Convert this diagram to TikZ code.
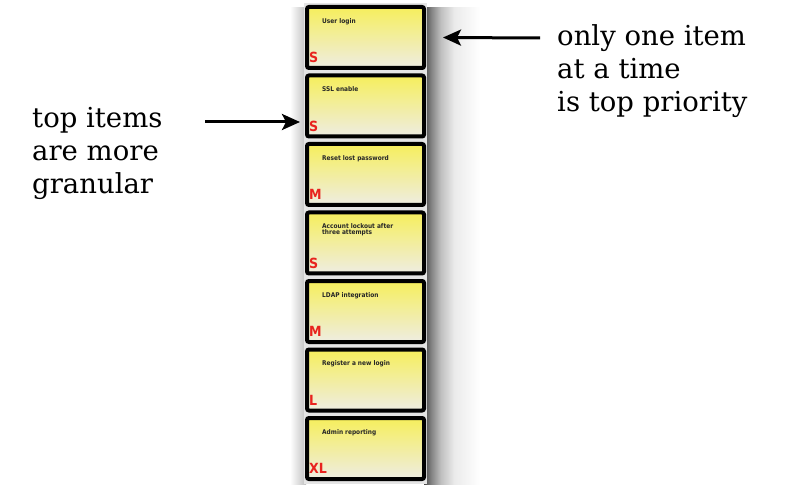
\documentclass[tikz,border=0pt]{standalone}
\usepackage{fontspec}
\setmainfont{DejaVu Serif}
\newfontfamily\cardfont{DejaVu Sans Condensed}
\usetikzlibrary{arrows.meta}
\definecolor{noteyellow}{HTML}{F6EE5C}
\definecolor{notepale}{HTML}{EEEDE2}
\definecolor{sizered}{HTML}{E8231E}
\pgfdeclarehorizontalshading{stackshadow}{100bp}{color(0bp)=(black!72); color(25bp)=(black!72);
  color(31bp)=(black!50); color(40bp)=(black!25); color(52bp)=(black!8);
  color(75bp)=(white); color(100bp)=(white)}
\tikzset{
  card/.style={rectangle, rounded corners=2pt, draw=black, line width=4pt,
    top color=noteyellow, bottom color=notepale,
    minimum width=117pt, minimum height=61pt, inner sep=0pt},
  title/.style={anchor=north west, font=\cardfont\bfseries\fontsize{6.5}{7}\selectfont,
    text=black!85, align=left, inner sep=0pt},
  size/.style={anchor=south west, font=\cardfont\bfseries\fontsize{14}{14}\selectfont,
    text=sizered, inner sep=0pt},
  note/.style={font=\fontsize{27.5}{33}\selectfont, align=left, anchor=west, inner sep=0pt},
  pointer/.style={-{Stealth[length=18pt,width=16pt,inset=4pt]}, line width=3pt}
}
\begin{document}
\begin{tikzpicture}[x=1pt,y=-1pt]
\useasboundingbox[fill=white] (0,0) rectangle (800,486);
% shadow behind the stack
\shade[shading=stackshadow] (424,8) rectangle (480,484);
\shade[left color=white, right color=black!25] (290,8) rectangle (306,484);
\fill[black!10] (304,3) rectangle (427,484);

\node[card] (c1) at (365.5,37.5) {};
\node[card] (c2) at (365.5,106) {};
\node[card] (c3) at (365.5,174.5) {};
\node[card] (c4) at (365.5,243) {};
\node[card] (c5) at (365.5,311.5) {};
\node[card] (c6) at (365.5,380) {};
\node[card] (c7) at (365.5,448.5) {};

\node[title] (t1) at ([xshift=17pt,yshift=-13pt]c1.north west) {User login};
\node[title] (t2) at ([xshift=17pt,yshift=-13pt]c2.north west) {SSL enable};
\node[title] (t3) at ([xshift=17pt,yshift=-13pt]c3.north west) {Reset lost password};
\node[title] (t4) at ([xshift=17pt,yshift=-13pt]c4.north west) {Account lockout after\\[-1pt]three attempts};
\node[title] (t5) at ([xshift=17pt,yshift=-13pt]c5.north west) {LDAP integration};
\node[title] (t6) at ([xshift=17pt,yshift=-13pt]c6.north west) {Register a new login};
\node[title] (t7) at ([xshift=17pt,yshift=-13pt]c7.north west) {Admin reporting};

\node[size] (s1) at ([xshift=4pt,yshift=7pt]c1.south west) {S};
\node[size] (s2) at ([xshift=4pt,yshift=7pt]c2.south west) {S};
\node[size] (s3) at ([xshift=4pt,yshift=7pt]c3.south west) {M};
\node[size] (s4) at ([xshift=4pt,yshift=7pt]c4.south west) {S};
\node[size] (s5) at ([xshift=4pt,yshift=7pt]c5.south west) {M};
\node[size] (s6) at ([xshift=4pt,yshift=7pt]c6.south west) {L};
\node[size] (s7) at ([xshift=4pt,yshift=7pt]c7.south west) {XL};

\node[note] (gran) at (32,153) {top items\\are more\\granular};
\node[note] (prio) at (557,71) {only one item\\at a time\\is top priority};

\coordinate (ga) at (205,122);
\coordinate (pa) at (540,38);
\draw[pointer] (ga) -- ([xshift=-5pt,yshift=-16pt]c2.west);
\draw[pointer] (pa) -- ([xshift=17pt]c1.east);
\end{tikzpicture}
\end{document}
